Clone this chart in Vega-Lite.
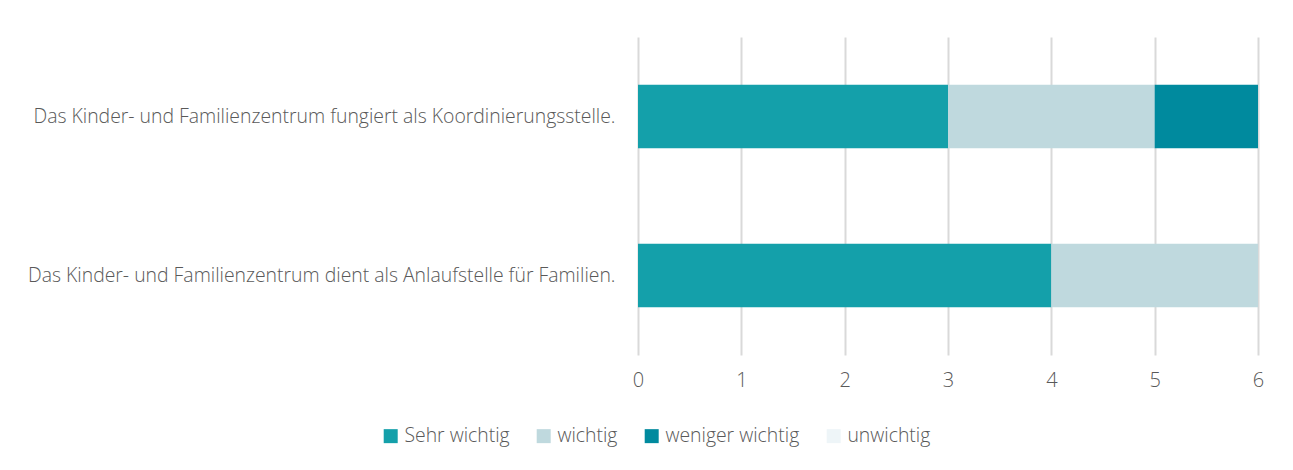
{
  "$schema": "https://vega.github.io/schema/vega-lite/v6.json",
  "width": 620,
  "height": 318,
  "autosize": {"type": "none"},
  "padding": {"left": 638, "top": 37, "right": 35, "bottom": 115},
  "background": "white",
  "config": {
    "view": {"stroke": null},
    "font": "Open Sans",
    "axis": {"labelFont": "Open Sans", "labelColor": "#595959", "labelFontSize": 19.4, "labelFontWeight": 300},
    "legend": {"labelFont": "Open Sans", "labelColor": "#595959", "labelFontSize": 19.4, "labelFontWeight": 300}
  },
  "data": {
    "values": [
      {"aussage": "Das Kinder- und Familienzentrum fungiert als Koordinierungsstelle.", "kategorie": "Sehr wichtig", "rang": 1, "anzahl": 3},
      {"aussage": "Das Kinder- und Familienzentrum fungiert als Koordinierungsstelle.", "kategorie": "wichtig", "rang": 2, "anzahl": 2},
      {"aussage": "Das Kinder- und Familienzentrum fungiert als Koordinierungsstelle.", "kategorie": "weniger wichtig", "rang": 3, "anzahl": 1},
      {"aussage": "Das Kinder- und Familienzentrum fungiert als Koordinierungsstelle.", "kategorie": "unwichtig", "rang": 4, "anzahl": 0},
      {"aussage": "Das Kinder- und Familienzentrum dient als Anlaufstelle für Familien.", "kategorie": "Sehr wichtig", "rang": 1, "anzahl": 4},
      {"aussage": "Das Kinder- und Familienzentrum dient als Anlaufstelle für Familien.", "kategorie": "wichtig", "rang": 2, "anzahl": 2},
      {"aussage": "Das Kinder- und Familienzentrum dient als Anlaufstelle für Familien.", "kategorie": "weniger wichtig", "rang": 3, "anzahl": 0},
      {"aussage": "Das Kinder- und Familienzentrum dient als Anlaufstelle für Familien.", "kategorie": "unwichtig", "rang": 4, "anzahl": 0}
    ]
  },
  "mark": {"type": "bar"},
  "encoding": {
    "y": {
      "field": "aussage",
      "type": "nominal",
      "sort": ["Das Kinder- und Familienzentrum fungiert als Koordinierungsstelle.", "Das Kinder- und Familienzentrum dient als Anlaufstelle für Familien."],
      "scale": {"paddingInner": 0.6, "paddingOuter": 0.3},
      "axis": {"title": null, "domain": false, "ticks": false, "labelPadding": 23, "labelLimit": 700, "grid": false}
    },
    "x": {
      "field": "anzahl",
      "type": "quantitative",
      "stack": "zero",
      "scale": {"domain": [0, 6], "nice": false},
      "axis": {"title": null, "domain": false, "ticks": false, "values": [0,1,2,3,4,5,6], "labelOverlap": false, "labelFlush": false, "labelFontSize": 20, "labelPadding": 15, "grid": true, "gridColor": "#D9D9D9", "gridWidth": 2}
    },
    "order": {"field": "rang", "type": "quantitative", "sort": "ascending"},
    "color": {
      "field": "kategorie",
      "type": "nominal",
      "sort": ["Sehr wichtig", "wichtig", "weniger wichtig", "unwichtig"],
      "scale": {"domain": ["Sehr wichtig", "wichtig", "weniger wichtig", "unwichtig"], "range": ["#14A0AA", "#BFD9DE", "#008A9E", "#EEF5F8"]},
      "legend": {
        "title": null,
        "orient": "none",
        "direction": "horizontal",
        "legendX": -257,
        "legendY": 389,
        "symbolType": "square",
        "symbolSize": 196,
        "symbolStrokeWidth": 0,
        "symbolOpacity": 1,
        "labelOffset": 4,
        "columnPadding": 24
      }
    }
  }
}
